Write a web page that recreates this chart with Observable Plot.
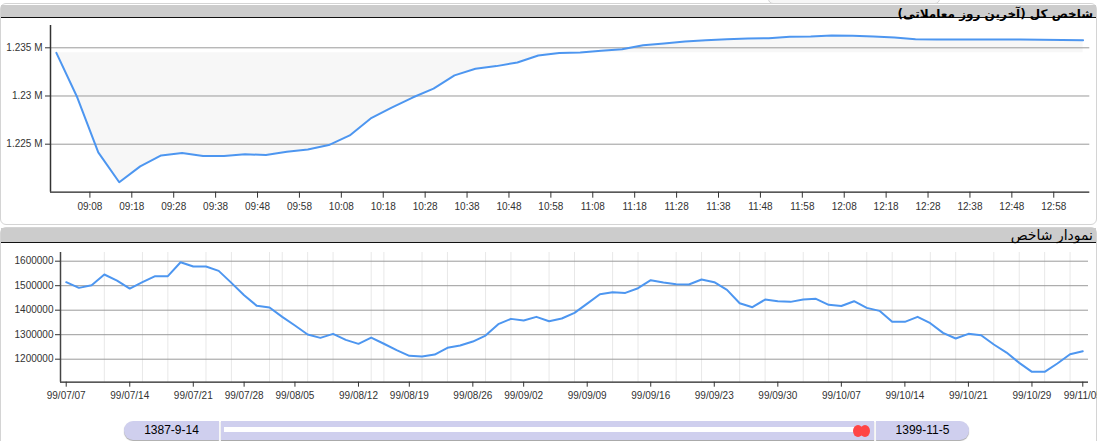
<!DOCTYPE html>
<html><head><meta charset="utf-8">
<script src="https://cdn.jsdelivr.net/npm/d3@7"></script>
<script src="https://cdn.jsdelivr.net/npm/@observablehq/plot@0.6"></script>
<style>
html,body{margin:0;padding:0;background:#fff;}
#root{position:relative;width:1103px;height:441px;overflow:hidden;font-family:"Liberation Sans",Arial,sans-serif;}
.panel{position:absolute;left:0;width:1097px;box-sizing:border-box;border:1px solid #d4d4d4;border-radius:6px;background:#fff;}
.hdr{position:absolute;left:1px;width:1095px;background:#cccccc;border-bottom:1.5px solid #111;direction:rtl;text-align:right;font-family:"DejaVu Sans",sans-serif;color:#000;white-space:nowrap;box-sizing:content-box;overflow:visible;}
.hdr span{display:inline-block;position:relative;padding-right:3px;padding-left:3px;}
.chart{position:absolute;left:0;overflow:hidden;}
.sl{position:absolute;background:#cfcfee;font-family:"Liberation Sans Narrow","Liberation Sans",Arial,sans-serif;font-size:12px;color:#000;text-align:center;box-shadow:0 1px 1px #aaa;}
.dot{position:absolute;background:#ff4545;border-radius:50%;}
</style>
</head><body>
<div id="root">
  <div style="position:absolute;left:768px;top:-6px;width:170px;height:8px;border:1px solid #d4d4d4;border-radius:5px;background:#f6f6f6;"></div>
  <div class="panel" style="top:3px;height:222px;"></div>
  <div class="hdr" style="top:5px;height:12px;"><span style="font-size:12px;font-weight:bold;line-height:12px;top:-2px;">شاخص کل (آخرین روز معاملاتی)</span></div>
  <div class="chart" id="topChart" style="top:0;width:1103px;height:222px;"></div>
  <div class="panel" style="top:227px;height:240px;"></div>
  <div class="hdr" style="top:228px;height:13.5px;"><span style="font-size:14px;line-height:12px;top:-3px;">نمودار شاخص</span></div>
  <div class="chart" id="botChart" style="top:242px;width:1097px;height:170px;"></div>
  <div class="sl" id="slLeft" style="left:124px;top:421px;width:95px;height:19px;line-height:19px;border-radius:9px 0 0 9px;"></div>
  <div class="sl" style="left:221px;top:421px;width:653px;height:19px;"></div>
  <div style="position:absolute;left:224px;top:427px;width:634px;height:5px;background:#fff;"></div>
  <div class="dot" style="left:853px;top:425px;width:10px;height:12px;"></div>
  <div class="dot" style="left:860px;top:425px;width:10px;height:12px;"></div>
  <div class="sl" id="slRight" style="left:876px;top:421px;width:93px;height:19px;line-height:19px;border-radius:0 9px 9px 0;"></div>
</div>
<script>
// ---- Top chart: intraday index (last trading day) ----
const topTimes = ["09:00","09:05","09:10","09:15","09:20","09:25","09:30","09:35","09:40","09:45",
  "09:50","09:55","10:00","10:05","10:10","10:15","10:20","10:25","10:30","10:35",
  "10:40","10:45","10:50","10:55","11:00","11:05","11:10","11:15","11:20","11:25",
  "11:30","11:35","11:40","11:45","11:50","11:55","12:00","12:05","12:10","12:15",
  "12:20","12:25","12:30","12:35","12:40","12:45","12:50","12:55","13:00","13:05"];
const topValues = [1234480,1229840,1224150,1221050,1222700,1223840,1224080,1223770,1223770,1223950,
  1223880,1224220,1224460,1224910,1225910,1227670,1228800,1229840,1230770,1232140,
  1232830,1233100,1233480,1234200,1234450,1234510,1234690,1234860,1235270,1235440,
  1235650,1235790,1235890,1235960,1235990,1236140,1236170,1236270,1236240,1236170,
  1236060,1235890,1235860,1235860,1235860,1235860,1235850,1235840,1235820,1235790];
const topXTickLabels = ["09:08","09:18","09:28","09:38","09:48","09:58","10:08","10:18","10:28","10:38",
  "10:48","10:58","11:08","11:18","11:28","11:38","11:48","11:58","12:08","12:18","12:28","12:38","12:48","12:58"];
const topYTicks = [1225000, 1230000, 1235000];
const topYLabels = ["1.225 M", "1.23 M", "1.235 M"];

// ---- Bottom chart: daily index ----
const dailyValues = [1514300,1491200,1502000,1545600,1521100,1488400,1514300,1538800,1538800,1595900,
  1578200,1578200,1560500,1511600,1461200,1417700,1410900,1372800,1337400,1300700,
  1287100,1303400,1278900,1262600,1288400,1263000,1236700,1213600,1210900,1219000,
  1246300,1255800,1272100,1296600,1342900,1364600,1357800,1372800,1355100,1366000,
  1389100,1427000,1465300,1473500,1470700,1489800,1522400,1512900,1506100,1504800,
  1525200,1514300,1483000,1428600,1412200,1443500,1436700,1434000,1443500,1446300,
  1421800,1417000,1436700,1409500,1397300,1352400,1352400,1372800,1347000,1307500,
  1284400,1303400,1298000,1259900,1227200,1185000,1148300,1148300,1182300,1220400,1232700];
const botTickIdx = [0,5,10,14,18,23,27,32,36,41,46,51,56,61,66,71,76,80];
const botTickLabels = ["99/07/07","99/07/14","99/07/21","99/07/28","99/08/05","99/08/12","99/08/19","99/08/26",
  "99/09/02","99/09/09","99/09/16","99/09/23","99/09/30","99/10/07","99/10/14","99/10/21","99/10/29","99/11/05"];
const vGridIdx = [3,6,8,11,13,16,17,19,21,24,25,28,30,33,35,38,40,43,45,48,50,53,55,58,60,63,65,68,70,73,75,77,79];
const botYTicks = [1200000, 1300000, 1400000, 1500000, 1600000];

// ---- Range slider labels ----
const rangeStart = "1387-9-14";
const rangeEnd = "1399-11-5";

const lineColor = "#4d96f0";
const svgStyle = "background: transparent; font-family: 'Liberation Sans', Arial, sans-serif; font-size: 10px; color: #333;";
const toMin = s => (+s.slice(0, 2)) * 60 + (+s.slice(3));
const fmtTime = m => String(Math.floor(m / 60)).padStart(2, "0") + ":" + String(m % 60).padStart(2, "0");

const topData = topTimes.map((t, i) => ({m: toMin(t), v: topValues[i]}));
const base = topValues[0];
const topXDomain = [538.6, 786.6];
const topYDomain = [1220021, 1237313];

const topPlot = Plot.plot({
  width: 1103, height: 222,
  marginLeft: 50, marginRight: 13.7, marginTop: 25, marginBottom: 30.3,
  style: svgStyle,
  x: {domain: topXDomain, label: null},
  y: {domain: topYDomain, label: null},
  marks: [
    Plot.areaY(topData, {x: "m", y1: base, y2: "v", fill: "#f7f7f7"}),
    Plot.gridY(topYTicks, {stroke: "#9a9a9a", strokeOpacity: 1}),
    Plot.ruleX([topXDomain[0]], {stroke: "#333", strokeWidth: 1.5}),
    Plot.ruleY([topYDomain[0]], {stroke: "#222", strokeWidth: 1.2}),
    Plot.axisY(topYTicks, {tickFormat: d => topYLabels[topYTicks.indexOf(d)], tickSize: 5, tickPadding: 3, color: "#333", label: null}),
    Plot.axisX(topXTickLabels.map(toMin), {tickFormat: fmtTime, tickSize: 6, tickPadding: 5, color: "#333", label: null}),
    Plot.lineY(topData, {x: "m", y: "v", stroke: lineColor, strokeWidth: 2})
  ]
});
document.getElementById("topChart").appendChild(topPlot);

const daily = dailyValues.map((v, i) => ({i, v}));
const botXDomain = [-0.45, 80.45];
const botYDomain = [1106122, 1635510];
const botPlot = Plot.plot({
  width: 1097, height: 170,
  marginLeft: 60, marginRight: 9, marginTop: 10, marginBottom: 30.3,
  style: svgStyle,
  x: {domain: botXDomain, label: null},
  y: {domain: botYDomain, label: null},
  marks: [
    Plot.gridX(vGridIdx, {stroke: "#e8e8e8", strokeOpacity: 1}),
    Plot.gridY(botYTicks, {stroke: "#9a9a9a", strokeOpacity: 1}),
    Plot.ruleX([botXDomain[0]], {stroke: "#444", strokeWidth: 1.5}),
    Plot.ruleY([botYDomain[0]], {stroke: "#222", strokeWidth: 1.2}),
    Plot.axisY(botYTicks, {tickFormat: d => String(d), tickSize: 5, tickPadding: 2, color: "#333", label: null}),
    Plot.axisX(botTickIdx, {tickFormat: d => botTickLabels[botTickIdx.indexOf(d)], tickSize: 5, tickPadding: 5, color: "#333", label: null}),
    Plot.lineY(daily, {x: "i", y: "v", stroke: lineColor, strokeWidth: 2})
  ]
});
document.getElementById("botChart").appendChild(botPlot);

document.getElementById("slLeft").textContent = rangeStart;
document.getElementById("slRight").textContent = rangeEnd;
</script>
</body></html>
